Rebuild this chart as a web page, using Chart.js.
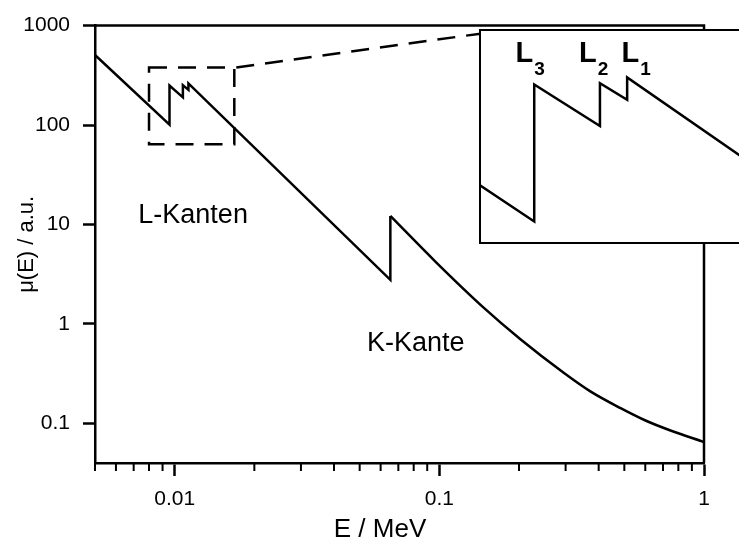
<!DOCTYPE html>
<html>
<head>
<meta charset="utf-8">
<script src="https://cdn.jsdelivr.net/npm/chart.js@4.4.1/dist/chart.umd.min.js"></script>
<style>
  html, body { margin: 0; padding: 0; background: #fff; overflow: hidden; }
  #wrap { position: relative; width: 739px; height: 540px; overflow: hidden; }
  #inset { position: absolute; left: 479px; top: 29px; width: 300px; height: 211px; border: 2px solid #000; background: #fff; }
  canvas { display: block; }
</style>
</head>
<body>
<div id="wrap">
  <canvas id="main" width="739" height="540"></canvas>
  <div id="inset"><canvas id="zoom" width="300" height="211"></canvas></div>
</div>
<script>
// ---- values (E in MeV, mu in a.u.) ----
// photo part with the L edges and the K edge (straight in log-log)
const energyEdges = [0.005, 0.00956, 0.00956, 0.01074, 0.01074, 0.01127, 0.01127, 0.0653, 0.0653];
const muEdges     = [506,   101,     250,     190,     252,     226,     262,     2.78,   12.2];
// smooth tail above the K edge
const energyTail = [0.0653, 0.0966, 0.147, 0.2025, 0.295, 0.372, 0.484, 0.601, 0.747, 1.0];
const muTail     = [12.2,   4.24,   1.46,  0.702,  0.323, 0.210, 0.1424, 0.107, 0.0849, 0.065];

const xLabeled = [0.01, 0.1, 1];
const xMinor = [0.005, 0.006, 0.007, 0.008, 0.009,
                0.02, 0.03, 0.04, 0.05, 0.06, 0.07, 0.08, 0.09,
                0.2, 0.3, 0.4, 0.5, 0.6, 0.7, 0.8, 0.9];
const yTicks = [0.1, 1, 10, 100, 1000];

// dashed zoom box in the main plot and the ranges of the inset
const zoomBoxE = [0.008, 0.0168];
const zoomBoxMu = [64, 380];
const connectorE = [0.0168, 0.143];
const connectorMu = [380, 830];
const insetE = [0.0087, 0.0148];
const insetMu = [88.2, 356];
const edgeNames = ['3', '2', '1'];
const edgeLabelE = [0.00925, 0.01035, 0.01116];

const notes = [
  { text: 'L-Kanten', e: 0.01174, mu: 10.4 },
  { text: 'K-Kante', e: 0.0815, mu: 0.537 }
];

const FONT = "'Liberation Sans', Arial, sans-serif";
Chart.defaults.font.family = FONT;
Chart.defaults.color = '#000';

function toPoints(xs, ys) {
  return xs.map((v, i) => ({ x: v, y: ys[i] }));
}

const mainDecor = {
  id: 'mainDecor',
  afterDraw(chart) {
    const { ctx, chartArea: a, scales: { x, y } } = chart;
    ctx.save();
    ctx.strokeStyle = '#000';
    ctx.lineWidth = 2.5;
    // top + right frame
    ctx.beginPath();
    ctx.moveTo(a.left, a.top);
    ctx.lineTo(a.right, a.top);
    ctx.lineTo(a.right, a.bottom);
    ctx.stroke();

    // minor ticks below the x axis
    ctx.lineWidth = 2;
    xMinor.forEach(v => {
      const px = x.getPixelForValue(v);
      ctx.beginPath();
      ctx.moveTo(px, a.bottom);
      ctx.lineTo(px, a.bottom + 8);
      ctx.stroke();
    });

    // dashed zoom box and connector
    ctx.lineWidth = 2.5;
    ctx.setLineDash([18, 11]);
    const x0 = x.getPixelForValue(zoomBoxE[0]), x1 = x.getPixelForValue(zoomBoxE[1]);
    const y0 = y.getPixelForValue(zoomBoxMu[1]), y1 = y.getPixelForValue(zoomBoxMu[0]);
    ctx.strokeRect(x0, y0, x1 - x0, y1 - y0);
    ctx.beginPath();
    ctx.moveTo(x.getPixelForValue(connectorE[0]) + 2, y.getPixelForValue(connectorMu[0]));
    ctx.lineTo(x.getPixelForValue(connectorE[1]), y.getPixelForValue(connectorMu[1]));
    ctx.stroke();
    ctx.setLineDash([]);

    // notes
    ctx.fillStyle = '#000';
    ctx.textAlign = 'center';
    ctx.textBaseline = 'alphabetic';
    ctx.font = '27px ' + FONT;
    notes.forEach(n => ctx.fillText(n.text, x.getPixelForValue(n.e), y.getPixelForValue(n.mu)));

    // axis titles
    ctx.font = '26px ' + FONT;
    ctx.fillText('E / MeV', 380, 537);
    ctx.translate(27, (a.top + a.bottom) / 2);
    ctx.rotate(-Math.PI / 2);
    ctx.textBaseline = 'middle';
    ctx.font = '22px ' + FONT;
    ctx.fillText('\u03bc(E) / a.u.', 0, 0);
    ctx.restore();
  }
};

new Chart(document.getElementById('main'), {
  type: 'line',
  data: {
    datasets: [
      { data: toPoints(energyEdges, muEdges), borderColor: '#000', borderWidth: 2.5, pointRadius: 0, tension: 0 },
      { data: toPoints(energyTail, muTail), borderColor: '#000', borderWidth: 2.5, pointRadius: 0, cubicInterpolationMode: 'monotone' }
    ]
  },
  options: {
    responsive: false,
    animation: false,
    events: [],
    layout: { padding: { top: 22, right: 35, left: 0, bottom: 0 } },
    plugins: { legend: { display: false }, tooltip: { enabled: false } },
    scales: {
      x: {
        type: 'logarithmic', min: 0.005, max: 1,
        afterBuildTicks: s => { s.ticks = xLabeled.map(v => ({ value: v })); },
        afterFit: s => { s.height = 77; },
        ticks: { callback: v => String(v), font: { size: 21 }, color: '#000', padding: 11, maxRotation: 0, autoSkip: false },
        grid: { drawOnChartArea: false, tickLength: 13, tickWidth: 2.5, tickColor: '#000' },
        border: { color: '#000', width: 2.5 }
      },
      y: {
        type: 'logarithmic', min: 0.04, max: 1000,
        afterBuildTicks: s => { s.ticks = yTicks.map(v => ({ value: v })); },
        afterFit: s => { s.width = 95; },
        ticks: { callback: v => String(v), font: { size: 21 }, color: '#000', padding: 13, autoSkip: false },
        grid: { drawOnChartArea: false, tickLength: 12, tickWidth: 2.5, tickColor: '#000' },
        border: { color: '#000', width: 2.5 }
      }
    }
  },
  plugins: [mainDecor]
});

const insetLabels = {
  id: 'insetLabels',
  afterDraw(chart) {
    const { ctx, scales: { x } } = chart;
    ctx.save();
    ctx.fillStyle = '#000';
    ctx.textAlign = 'left';
    ctx.textBaseline = 'alphabetic';
    edgeNames.forEach((sub, i) => {
      const px = x.getPixelForValue(edgeLabelE[i]);
      ctx.font = 'bold 29px ' + FONT;
      ctx.fillText('L', px, 31);
      const w = ctx.measureText('L').width;
      ctx.font = 'bold 19px ' + FONT;
      ctx.fillText(sub, px + w + 1, 44);
    });
    ctx.restore();
  }
};

new Chart(document.getElementById('zoom'), {
  type: 'line',
  data: {
    datasets: [
      { data: toPoints(energyEdges, muEdges), borderColor: '#000', borderWidth: 2.5, pointRadius: 0, tension: 0 }
    ]
  },
  options: {
    responsive: false,
    animation: false,
    events: [],
    layout: { padding: 0 },
    plugins: { legend: { display: false }, tooltip: { enabled: false } },
    scales: {
      x: { type: 'logarithmic', display: false, min: insetE[0], max: insetE[1] },
      y: { type: 'logarithmic', display: false, min: insetMu[0], max: insetMu[1] }
    }
  },
  plugins: [insetLabels]
});
</script>
</body>
</html>
